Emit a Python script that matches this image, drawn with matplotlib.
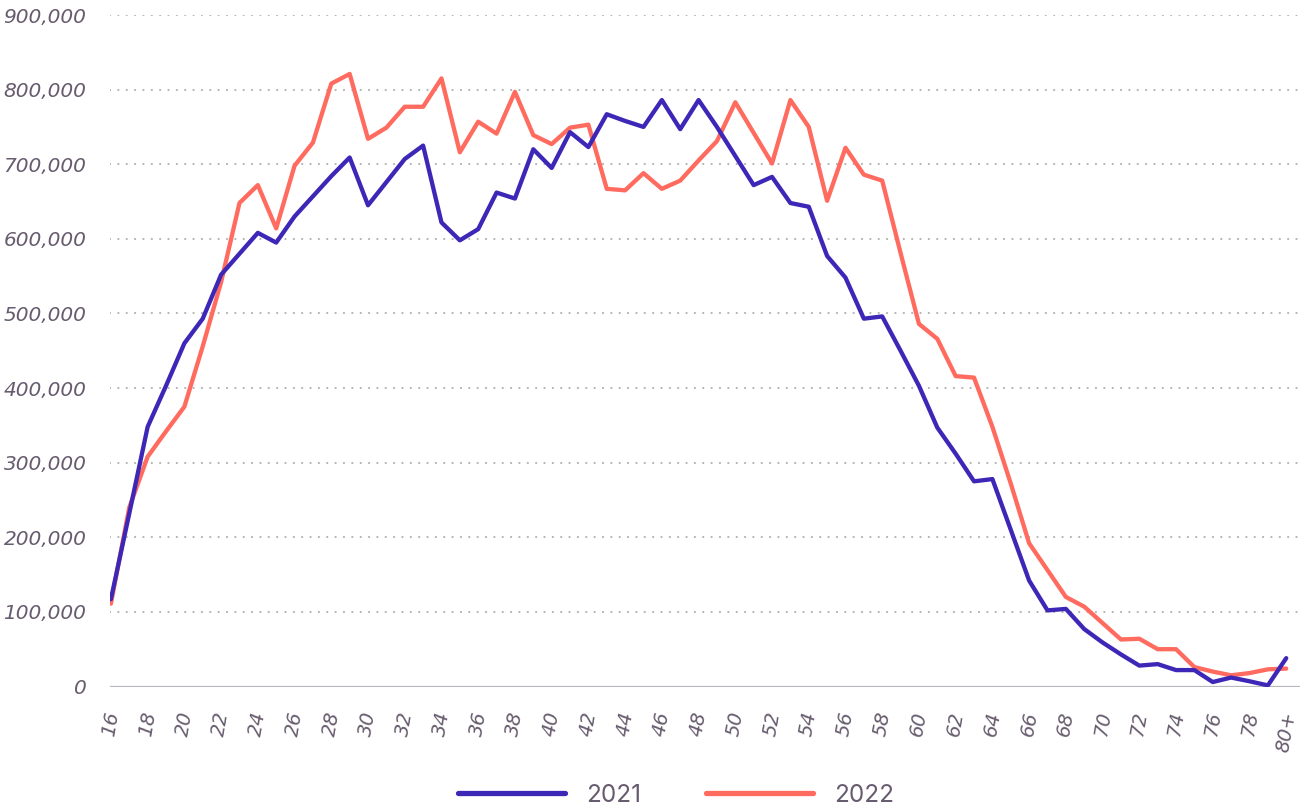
import matplotlib
matplotlib.use("Agg")
import matplotlib.pyplot as plt
from matplotlib.ticker import FuncFormatter, FixedLocator

ages = [str(a) for a in range(16, 80)] + ["80+"]

values_2021 = [
    117000, 232000, 348000, 403000, 460000, 493000, 552000, 580000, 608000, 595000,
    630000, 657000, 684000, 709000, 645000, 676000, 707000, 725000, 622000, 598000,
    613000, 662000, 654000, 720000, 695000, 743000, 723000, 767000, 758000, 750000,
    786000, 747000, 786000, 750000, 711000, 672000, 683000, 648000, 643000, 577000,
    548000, 493000, 496000, 450000, 403000, 347000, 312000, 275000, 278000, 210000,
    142000, 102000, 104000, 77000, 59000, 43000, 28000, 30000, 22000, 22000,
    6000, 12000, 7000, 1500, 38000,
]

values_2022 = [
    111000, 240000, 308000, 342000, 375000, 456000, 542000, 648000, 672000, 614000,
    698000, 729000, 808000, 821000, 734000, 749000, 777000, 777000, 815000, 716000,
    757000, 741000, 797000, 739000, 727000, 749000, 753000, 667000, 665000, 688000,
    667000, 678000, 705000, 731000, 783000, 742000, 701000, 786000, 750000, 651000,
    722000, 686000, 678000, 581000, 486000, 466000, 416000, 414000, 348000, 272000,
    192000, 156000, 120000, 107000, 85000, 63000, 64000, 50000, 50000, 26000,
    20000, 15000, 18000, 23000, 24000,
]

series_names = ["2021", "2022"]
y_ticks = [0, 100000, 200000, 300000, 400000, 500000, 600000, 700000, 800000, 900000]

BLUE = "#3d27b7"
RED = "#ff6b5f"
LABEL_COLOR = "#675b6e"

fig = plt.figure(figsize=(13.07, 8.09), dpi=100)
ax = fig.add_axes([110 / 1307, 1 - 686.5 / 809, (1300 - 110) / 1307, (686.5 - 15) / 809])

x = list(range(len(ages)))
ax.plot(x, values_2021, color=BLUE, lw=3.1, solid_joinstyle="round",
        solid_capstyle="round", zorder=4, label=series_names[0])
ax.plot(x, values_2022, color=RED, lw=3.1, solid_joinstyle="round",
        solid_capstyle="round", zorder=3, label=series_names[1])

ax.set_xlim(-0.05, 64.75)
ax.set_ylim(0, 900000)

ax.yaxis.set_major_locator(FixedLocator(y_ticks))
ax.yaxis.set_major_formatter(FuncFormatter(lambda v, p: f"{int(v):,}"))
ax.yaxis.grid(True, linestyle=(0, (0.01, 3.75)), linewidth=1.6, color="#b3b3b3",
              dash_capstyle="round", zorder=1)
ax.axhline(0, color="#bab6be", lw=1.6, zorder=2)

tick_idx = list(range(0, len(ages), 2))
ax.set_xticks(tick_idx)
ax.set_xticklabels([ages[i] for i in tick_idx])

for s in ax.spines.values():
    s.set_visible(False)

ax.tick_params(axis="both", length=0)
ax.tick_params(axis="y", pad=17)
ax.tick_params(axis="x", pad=17)
for lab in ax.get_yticklabels():
    lab.set_fontstyle("italic")
    lab.set_fontsize(14.5)
    lab.set_color(LABEL_COLOR)
    lab.set_fontfamily("DejaVu Sans")
for lab in ax.get_xticklabels():
    lab.set_fontstyle("italic")
    lab.set_fontsize(14)
    lab.set_color(LABEL_COLOR)
    lab.set_rotation(80)
    lab.set_ha("center")
    lab.set_va("top")

leg = fig.legend(loc="center", bbox_to_anchor=(676 / 1307, 1 - 795 / 809), ncol=2,
                 frameon=False, handlelength=4.4, handletextpad=0.85,
                 columnspacing=2.7, prop={"family": "Inter", "size": 17.5})
for line in leg.get_lines():
    line.set_linewidth(3.8)
    line.set_solid_capstyle("round")
for t in leg.get_texts():
    t.set_color(LABEL_COLOR)

fig.savefig("out.png", dpi=100)
